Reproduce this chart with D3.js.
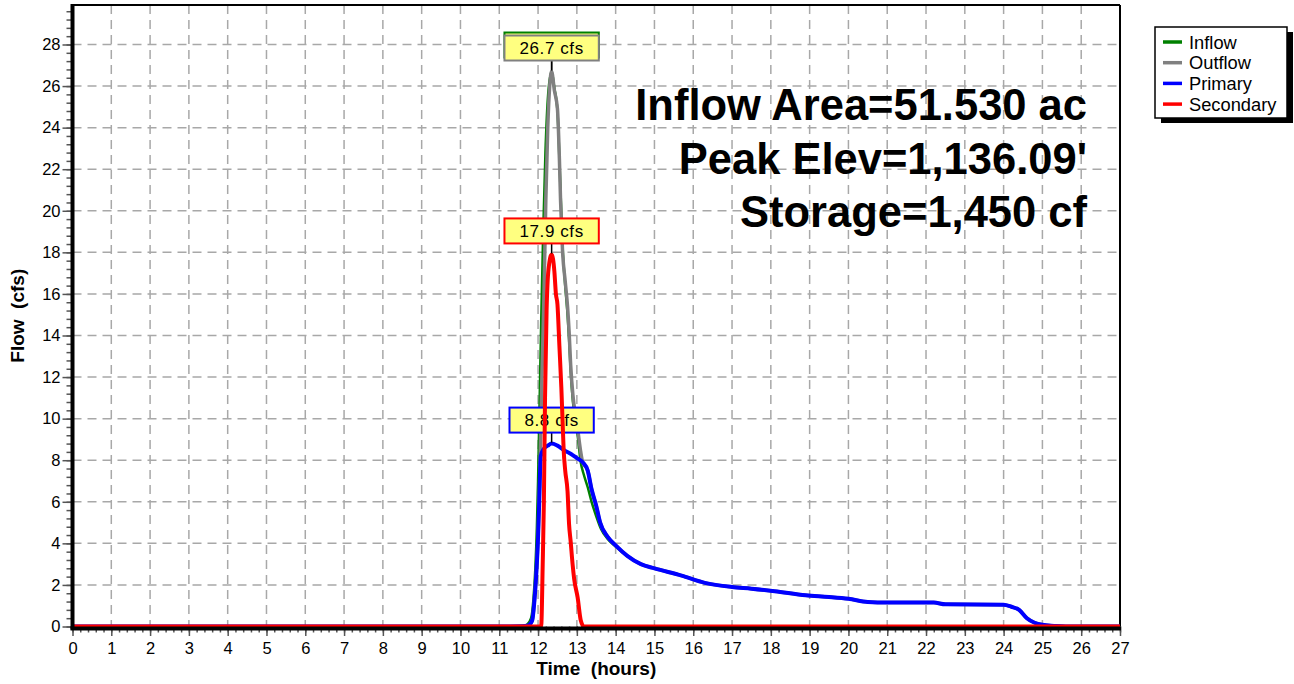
<!DOCTYPE html>
<html>
<head>
<meta charset="utf-8">
<script src="https://cdn.jsdelivr.net/npm/d3@7"></script>
<style>
  body { margin: 0; background: #fff; }
  svg { display: block; font-family: "Liberation Sans", Arial, sans-serif; }
</style>
</head>
<body>
<svg width="1294" height="684"></svg>
<script>
// tick labels
let hourTicks = [0, 1, 2, 3, 4, 5, 6, 7, 8, 9, 10, 11, 12, 13, 14, 15, 16, 17, 18, 19, 20, 21, 22, 23, 24, 25, 26, 27]
let flowTicks = [0, 2, 4, 6, 8, 10, 12, 14, 16, 18, 20, 22, 24, 26, 28]

// [hours, cfs]
let inflow = [[0, 0], [11.0, 0], [11.6, 0.02], [11.72, 0.1], [11.82, 0.4], [11.88, 1.3], [11.93, 2.8], [11.97, 4.8],
  [12.0, 7.0], [12.04, 10.8], [12.08, 14.6], [12.13, 18.8], [12.19, 22.8], [12.26, 25.6], [12.35, 26.7], [12.42, 25.9],
  [12.5, 24.8], [12.55, 22.5], [12.59, 20.4], [12.64, 18.0], [12.7, 16.4], [12.76, 15.0], [12.8, 13.8], [12.84, 12.3],
  [12.9, 10.8], [12.96, 9.9], [13.02, 9.2], [13.1, 7.9], [13.18, 7.3], [13.28, 6.7], [13.38, 6.0], [13.5, 5.3],
  [13.62, 4.7], [13.8, 4.2], [14.0, 3.85], [14.3, 3.4], [14.65, 3.0], [15.0, 2.8], [15.7, 2.45], [16.3, 2.1],
  [17.0, 1.9], [17.5, 1.82], [18.1, 1.7], [18.9, 1.5], [19.5, 1.42], [20.0, 1.33], [20.5, 1.18], [21.0, 1.15],
  [22.2, 1.15], [22.5, 1.07], [24.0, 1.05], [24.2, 0.95], [24.4, 0.8], [24.6, 0.4], [24.8, 0.18], [25.0, 0.08],
  [25.3, 0.03], [25.6, 0], [27, 0]]

let outflow = [[0, 0], [11.0, 0], [11.6, 0.01], [11.75, 0.05], [11.85, 0.3], [11.9, 1.1], [11.95, 2.4], [12.0, 4.3],
  [12.04, 6.8], [12.07, 9.5], [12.1, 12.0], [12.15, 15.7], [12.2, 20.5], [12.25, 24.0], [12.3, 26.0], [12.35, 26.7],
  [12.42, 25.8], [12.5, 24.9], [12.55, 22.5], [12.58, 20.5], [12.63, 18.1], [12.7, 16.6], [12.76, 15.4], [12.8, 14.2],
  [12.84, 12.6], [12.9, 11.1], [12.96, 10.2], [13.02, 9.5], [13.1, 8.4], [13.15, 7.9], [13.28, 7.5], [13.38, 6.6],
  [13.5, 5.8], [13.6, 5.0], [13.8, 4.3], [14.0, 3.9], [14.3, 3.4], [14.65, 3.0], [15.0, 2.8], [15.7, 2.45],
  [16.3, 2.1], [17.0, 1.9], [17.5, 1.82], [18.1, 1.7], [18.9, 1.5], [19.5, 1.42], [20.0, 1.33], [20.5, 1.18],
  [21.0, 1.15], [22.2, 1.15], [22.5, 1.07], [24.0, 1.05], [24.2, 0.95], [24.4, 0.8], [24.6, 0.4], [24.8, 0.18],
  [25.0, 0.08], [25.3, 0.03], [25.6, 0], [27, 0]]

let primary = [[0, 0], [11.0, 0], [11.6, 0.01], [11.75, 0.05], [11.85, 0.3], [11.9, 1.1], [11.95, 2.4], [12.0, 4.3],
  [12.03, 6.0], [12.07, 8.2], [12.15, 8.55], [12.25, 8.7], [12.35, 8.8], [12.5, 8.7], [12.7, 8.45], [12.85, 8.3],
  [13.0, 8.1], [13.15, 7.9], [13.28, 7.5], [13.38, 6.6], [13.5, 5.8], [13.6, 5.0], [13.8, 4.3], [14.0, 3.9],
  [14.3, 3.4], [14.65, 3.0], [15.0, 2.8], [15.7, 2.45], [16.3, 2.1], [17.0, 1.9], [17.5, 1.82], [18.1, 1.7],
  [18.9, 1.5], [19.5, 1.42], [20.0, 1.33], [20.5, 1.18], [21.0, 1.15], [22.2, 1.15], [22.5, 1.07], [24.0, 1.05],
  [24.2, 0.95], [24.4, 0.8], [24.6, 0.4], [24.8, 0.18], [25.0, 0.08], [25.3, 0.03], [25.6, 0], [27, 0]]

let secondary = [[0, 0], [12.08, 0], [12.12, 3.0], [12.15, 6.0], [12.18, 11.0], [12.22, 15.2], [12.27, 17.2],
  [12.35, 17.9], [12.42, 17.1], [12.46, 16.0], [12.5, 15.5], [12.55, 13.5], [12.6, 11.5], [12.63, 10.0],
  [12.66, 8.5], [12.7, 7.5], [12.76, 6.5], [12.8, 4.9], [12.84, 4.1], [12.89, 3.0], [12.93, 2.3], [13.02, 1.4],
  [13.1, 0.3], [13.18, 0], [27, 0]]

let seriesNames = ['Inflow', 'Outflow', 'Primary', 'Secondary']
let seriesColors = ['#008000', '#808080', '#0000ff', '#ff0000']
let infoLines = ['Inflow Area=51.530 ac', "Peak Elev=1,136.09'", 'Storage=1,450 cf']

// the inflow tag sits just behind the outflow tag, only its top edge shows
let series = [
  { name: seriesNames[0], data: inflow, color: seriesColors[0], width: 2.5, lift: 3, tagText: false },
  { name: seriesNames[1], data: outflow, color: seriesColors[1], width: 3.5, lift: 0, tagText: true },
  { name: seriesNames[2], data: primary, color: seriesColors[2], width: 4, lift: 0, tagText: true },
  { name: seriesNames[3], data: secondary, color: seriesColors[3], width: 4, lift: 0, tagText: true }
]

let pLeft = 72.5, pRight = 1120, pTop = 5, pBottom = 626.5

let svg = d3.select('svg')

let x = d3.scaleLinear().domain([0, 27]).range([pLeft, pRight])
let y = d3.scaleLinear().domain([0, 29.9]).range([pBottom, pTop])

// grid
let grid = svg.append('g')
  .attr('stroke', '#a8a8a8')
  .attr('stroke-width', 1.5)
  .attr('stroke-dasharray', '9,6')
grid.selectAll('.vg')
  .data(hourTicks.slice(1))
  .enter()
  .append('line')
  .attr('x1', d => x(d)).attr('x2', d => x(d))
  .attr('y1', pTop).attr('y2', pBottom)
grid.selectAll('.hg')
  .data(flowTicks.slice(1))
  .enter()
  .append('line')
  .attr('x1', pLeft).attr('x2', pRight)
  .attr('y1', d => y(d)).attr('y2', d => y(d))

// minor ticks
let minorX = d3.range(0, 27.001, 0.2)
let minorY = d3.range(0, 29.9, 0.4)

svg.append('g')
  .attr('transform', 'translate(0,' + pBottom + ')')
  .call(d3.axisBottom(x).tickValues(minorX).tickSize(6).tickFormat(''))
  .call(g => g.select('.domain').remove())
  .call(g => g.selectAll('line').attr('stroke', '#555').attr('stroke-width', 1.5))

svg.append('g')
  .attr('transform', 'translate(' + pLeft + ',0)')
  .call(d3.axisLeft(y).tickValues(minorY).tickSize(6).tickFormat(''))
  .call(g => g.select('.domain').remove())
  .call(g => g.selectAll('line').attr('stroke', '#555').attr('stroke-width', 1.5))

// major ticks
svg.append('g')
  .attr('transform', 'translate(0,' + pBottom + ')')
  .call(d3.axisBottom(x).tickValues(hourTicks).tickSize(9.5).tickPadding(6))
  .call(g => g.select('.domain').remove())
  .call(g => g.selectAll('line').attr('stroke', '#555').attr('stroke-width', 1.5))
  .call(g => g.selectAll('text').attr('fill', '#000').style('font-size', '16.5px')
    .style('font-family', '"Liberation Sans", Arial, sans-serif'))

svg.append('g')
  .attr('transform', 'translate(' + pLeft + ',0)')
  .call(d3.axisLeft(y).tickValues(flowTicks).tickSize(10).tickPadding(2))
  .call(g => g.select('.domain').remove())
  .call(g => g.selectAll('line').attr('stroke', '#555').attr('stroke-width', 1.5))
  .call(g => g.selectAll('text').attr('fill', '#000').style('font-size', '16.5px')
    .style('font-family', '"Liberation Sans", Arial, sans-serif'))

// frame (top, right)
svg.append('line').attr('x1', pLeft).attr('x2', pRight).attr('y1', pTop).attr('y2', pTop)
  .attr('stroke', '#000').attr('stroke-width', 2)
svg.append('line').attr('x1', pRight).attr('x2', pRight).attr('y1', pTop).attr('y2', pBottom)
  .attr('stroke', '#000').attr('stroke-width', 2)

// info text
svg.append('g')
  .selectAll('text')
  .data(infoLines)
  .enter()
  .append('text')
  .attr('x', 1087)
  .attr('y', (d, i) => 120 + i * 53.5)
  .attr('text-anchor', 'end')
  .style('font-size', '43.5px')
  .style('font-weight', 'bold')
  .text(d => d)

// series + peak labels
let line = d3.line()
  .x(d => x(d[0]))
  .y(d => y(d[1]))
  .curve(d3.curveMonotoneX)

series.forEach(s => {
  let grp = svg.append('g')
  grp.append('path')
    .datum(s.data)
    .attr('fill', 'none')
    .attr('stroke', s.color)
    .attr('stroke-width', s.width)
    .attr('stroke-linejoin', 'round')
    .attr('d', line)

  // thick axes over the zero run of the lines
  if (s.name === 'Secondary') {
    grp.append('line').attr('x1', pLeft).attr('x2', pLeft).attr('y1', pTop - 1).attr('y2', pBottom + 3)
      .attr('stroke', '#000').attr('stroke-width', 4)
    grp.append('line').attr('x1', pLeft - 2).attr('x2', pRight + 1).attr('y1', pBottom + 2).attr('y2', pBottom + 2)
      .attr('stroke', '#000').attr('stroke-width', 4)
  }

  let peak = s.data.reduce((a, b) => (b[1] > a[1] ? b : a))
  let px = x(peak[0]), py = y(peak[1])
  let lab = grp.append('g')
  let boxBottom = py - 11 - s.lift
  lab.append('line')
    .attr('x1', px).attr('x2', px)
    .attr('y1', boxBottom).attr('y2', py - 1)
    .attr('stroke', '#000').attr('stroke-width', 1.5)
  let rect = lab.append('rect')
  let label = peak[1].toFixed(1) + ' cfs'
  let txt = lab.append('text')
    .attr('x', px)
    .attr('y', boxBottom - 6.5)
    .attr('text-anchor', 'middle')
    .style('font-size', '17px')
    .style('letter-spacing', '0.6px')
    .text(label)
  let tw = txt.node().getComputedTextLength()
  if (!s.tagText) txt.remove()
  rect
    .attr('x', px - tw / 2 - 15)
    .attr('y', boxBottom - 25)
    .attr('width', tw + 30)
    .attr('height', 25)
    .attr('fill', '#ffff80')
    .attr('stroke', s.color)
    .attr('stroke-width', 2)
})

// axis titles
svg.append('text')
  .attr('x', (pLeft + pRight) / 2)
  .attr('y', 675)
  .attr('text-anchor', 'middle')
  .style('font-size', '19px')
  .style('font-weight', 'bold')
  .style('white-space', 'pre')
  .text('Time  (hours)')

svg.append('text')
  .attr('transform', 'translate(24,' + (pTop + pBottom) / 2 + ') rotate(-90)')
  .attr('text-anchor', 'middle')
  .style('font-size', '19px')
  .style('font-weight', 'bold')
  .style('white-space', 'pre')
  .text('Flow  (cfs)')

// legend
let legend = svg.append('g').attr('transform', 'translate(1155,27)')
legend.append('rect')
  .attr('x', 6).attr('y', 5).attr('width', 132).attr('height', 91)
  .attr('fill', '#000')
legend.append('rect')
  .attr('x', 0).attr('y', 0).attr('width', 132).attr('height', 91)
  .attr('fill', '#fff').attr('stroke', '#000').attr('stroke-width', 1.5)
let item = legend.selectAll('.item')
  .data(series)
  .enter()
  .append('g')
  .attr('transform', (d, i) => 'translate(0,' + (15 + i * 20.7) + ')')
item.append('line')
  .attr('x1', 8).attr('x2', 27)
  .attr('stroke', d => d.color)
  .attr('stroke-width', 3.5)
item.append('text')
  .attr('x', 34)
  .attr('y', 6.5)
  .style('font-size', '18.3px')
  .text(d => d.name)
</script>
</body>
</html>
